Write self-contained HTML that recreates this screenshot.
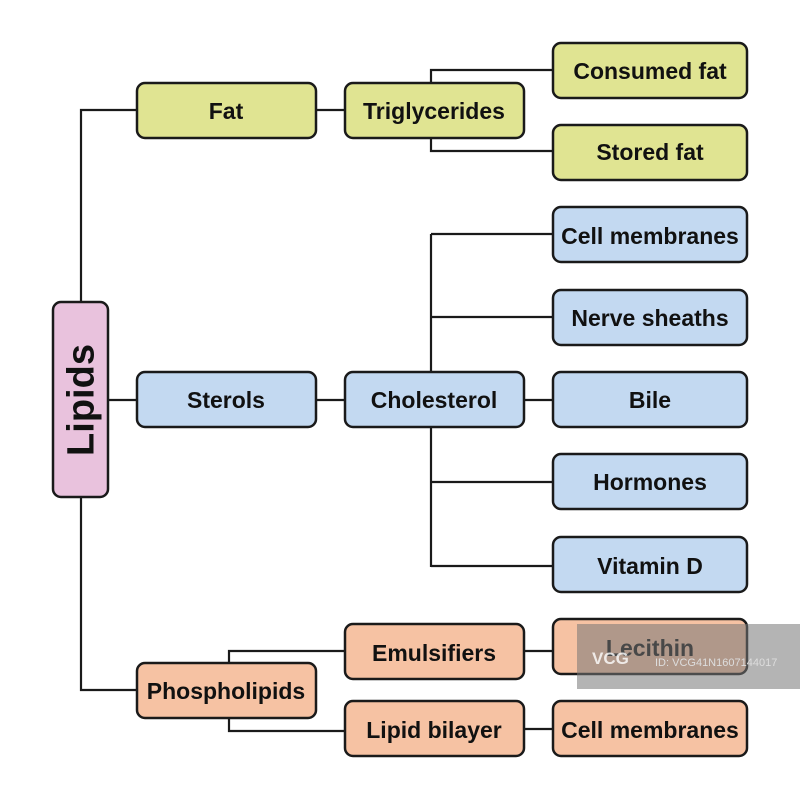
<!DOCTYPE html>
<html><head><style>html,body{margin:0;padding:0;background:#fff;}svg{display:block}</style></head>
<body>
<svg width="800" height="799" viewBox="0 0 800 799" xmlns="http://www.w3.org/2000/svg" font-family="Liberation Sans, Arial, sans-serif" font-weight="bold">
<g stroke="#1a1a1a" stroke-width="2.2" fill="none">
<polyline points="137,110 81,110 81,690 137,690"/>
<line x1="108" y1="400" x2="137" y2="400"/>
<line x1="316" y1="110" x2="345" y2="110"/>
<polyline points="553,70 431,70 431,151 553,151"/>
<line x1="316" y1="400" x2="345" y2="400"/>
<line x1="431" y1="234" x2="431" y2="567"/>
<line x1="431" y1="234" x2="553" y2="234"/>
<line x1="431" y1="317" x2="553" y2="317"/>
<line x1="524" y1="400" x2="553" y2="400"/>
<line x1="431" y1="482" x2="553" y2="482"/>
<line x1="431" y1="566" x2="553" y2="566"/>
<polyline points="345,651 229,651 229,731 345,731"/>
<line x1="524" y1="651" x2="553" y2="651"/>
<line x1="524" y1="729" x2="553" y2="729"/>
</g>
<g stroke="#1a1a1a" stroke-width="2.5">
<rect x="53" y="302" width="55" height="195" rx="8" fill="#e9c2dd"/>
<rect x="137" y="83" width="179" height="55" rx="8" fill="#e0e492"/>
<rect x="345" y="83" width="179" height="55" rx="8" fill="#e0e492"/>
<rect x="553" y="43" width="194" height="55" rx="8" fill="#e0e492"/>
<rect x="553" y="125" width="194" height="55" rx="8" fill="#e0e492"/>
<rect x="137" y="372" width="179" height="55" rx="8" fill="#c3d9f1"/>
<rect x="345" y="372" width="179" height="55" rx="8" fill="#c3d9f1"/>
<rect x="553" y="207" width="194" height="55" rx="8" fill="#c3d9f1"/>
<rect x="553" y="290" width="194" height="55" rx="8" fill="#c3d9f1"/>
<rect x="553" y="372" width="194" height="55" rx="8" fill="#c3d9f1"/>
<rect x="553" y="454" width="194" height="55" rx="8" fill="#c3d9f1"/>
<rect x="553" y="537" width="194" height="55" rx="8" fill="#c3d9f1"/>
<rect x="137" y="663" width="179" height="55" rx="8" fill="#f6c2a3"/>
<rect x="345" y="624" width="179" height="55" rx="8" fill="#f6c2a3"/>
<rect x="345" y="701" width="179" height="55" rx="8" fill="#f6c2a3"/>
<rect x="553" y="619" width="194" height="55" rx="8" fill="#f6c2a3"/>
<rect x="553" y="701" width="194" height="55" rx="8" fill="#f6c2a3"/>
</g>
<g fill="#111" font-size="23" text-anchor="middle">
<text transform="translate(80.5,400) rotate(-90)" x="0" y="13" font-size="38">Lipids</text>
<text x="226" y="119">Fat</text>
<text x="434" y="119">Triglycerides</text>
<text x="650" y="79">Consumed fat</text>
<text x="650" y="160">Stored fat</text>
<text x="226" y="408">Sterols</text>
<text x="434" y="408">Cholesterol</text>
<text x="650" y="244">Cell membranes</text>
<text x="650" y="326">Nerve sheaths</text>
<text x="650" y="408">Bile</text>
<text x="650" y="490">Hormones</text>
<text x="650" y="574">Vitamin D</text>
<text x="226" y="699">Phospholipids</text>
<text x="434" y="661">Emulsifiers</text>
<text x="434" y="738">Lipid bilayer</text>
<text x="650" y="656">Lecithin</text>
<text x="650" y="738">Cell membranes</text>
</g>
<rect x="577" y="624" width="223" height="65" fill="#777" opacity="0.55"/>
<text x="592" y="664" fill="#fff" font-size="17" opacity="0.8">VCG</text>
<text x="655" y="666" fill="#ddd" font-size="11" font-weight="normal">ID: VCG41N1607144017</text>
</svg>
</body></html>
